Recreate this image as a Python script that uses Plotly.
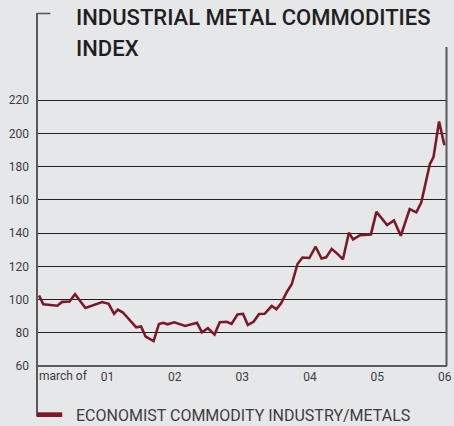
import plotly.graph_objects as go

# Economist commodity index, industrial metals (observation dates and index levels)
dates = [
    "2000-02-25", "2000-03-19", "2000-06-03", "2000-06-29", "2000-08-08", "2000-09-07",
    "2000-11-02", "2001-02-01", "2001-03-08", "2001-04-06", "2001-04-27", "2001-05-24",
    "2001-08-04", "2001-08-30", "2001-09-24", "2001-11-06", "2001-12-05", "2001-12-29",
    "2002-01-20", "2002-02-26", "2002-04-26", "2002-06-29", "2002-07-26", "2002-08-27",
    "2002-10-02", "2002-10-30", "2002-12-07", "2003-01-02", "2003-02-03", "2003-03-05",
    "2003-03-31", "2003-05-01", "2003-05-31", "2003-06-30", "2003-08-07", "2003-09-02",
    "2003-09-27", "2003-10-29", "2003-11-24", "2003-12-25", "2004-01-21", "2004-02-27",
    "2004-04-01", "2004-05-03", "2004-05-28", "2004-06-27", "2004-07-31", "2004-08-27",
    "2004-09-28", "2004-10-21", "2004-11-27", "2005-01-25", "2005-02-24", "2005-04-23",
    "2005-05-30", "2005-07-06", "2005-08-23", "2005-09-28", "2005-10-25", "2005-12-10",
    "2005-12-30", "2006-01-29", "2006-02-27",
]
index_values = [
    102.4, 97.2, 96.3, 98.6, 98.8, 103.2,
    94.9, 98.5, 97.4, 91.4, 93.9, 92.2,
    83.3, 83.8, 77.7, 75.0, 85.3, 86.0,
    85.1, 86.3, 84.1, 86.0, 80.3, 82.7,
    78.9, 86.3, 86.6, 85.3, 91.0, 91.4,
    84.7, 86.6, 91.3, 91.4, 96.1, 94.2,
    97.7, 104.7, 109.3, 121.4, 125.3, 125.0,
    131.8, 124.7, 125.4, 130.5, 127.2, 124.2,
    140.2, 136.2, 138.7, 139.2, 152.8, 144.8,
    147.6, 138.4, 154.4, 152.5, 158.5, 181.5,
    185.7, 207.2, 192.9,
]

series_name = "ECONOMIST COMMODITY INDUSTRY/METALS"
title_lines = ["INDUSTRIAL METAL COMMODITIES", "INDEX"]

y_ticks = [60, 80, 100, 120, 140, 160, 180, 200, 220]
x_tick_dates = ["2001-03-01", "2002-03-01", "2003-03-01", "2004-03-01", "2005-03-01", "2006-03-01"]
x_tick_labels = ["01", "02", "03", "04", "05", "06"]

BG = "#e6e7e9"
MAROON = "#7a1a28"
INK = "#231f20"
AXIS = "#58595b"
LABEL = "#3d3d3f"
FONT = "Roboto"

W, H = 454, 426
ML, MR, MT, MB = 37, 2, 47, 60
PW, PH = W - ML - MR, H - MT - MB


def px_x(px):
    return (px - ML) / PW


def px_y(py):
    return (H - MB - py) / PH


fig = go.Figure()
fig.add_trace(go.Scatter(
    x=dates, y=index_values, mode="lines", name=series_name,
    line=dict(color=MAROON, width=2.6), showlegend=False,
))

shapes = [
    # left frame line running from the title bracket down to the key
    dict(type="line", xref="paper", yref="paper", x0=0, x1=0,
         y0=px_y(13), y1=px_y(416.5), line=dict(color=AXIS, width=2)),
    # small bracket at the top
    dict(type="line", xref="paper", yref="paper", x0=0, x1=px_x(50.5),
         y0=px_y(13.5), y1=px_y(13.5), line=dict(color=AXIS, width=1.6)),
    # right border
    dict(type="line", xref="paper", yref="paper", x0=px_x(451.5), x1=px_x(451.5),
         y0=0, y1=1, line=dict(color=AXIS, width=2)),
    # bottom axis
    dict(type="line", xref="paper", yref="paper", x0=0, x1=1,
         y0=0, y1=0, line=dict(color=AXIS, width=2)),
    # key swatch
    dict(type="rect", xref="paper", yref="paper", x0=0, x1=px_x(62.5),
         y0=px_y(417), y1=px_y(412.3), fillcolor=MAROON, line=dict(width=0)),
]

title_font = dict(family=FONT, size=22, color=INK, weight=500)
annotations = [
    dict(text=title_lines[0], xref="paper", yref="paper", x=px_x(74.5), y=px_y(17.5),
         xanchor="left", yanchor="middle", showarrow=False, font=title_font),
    dict(text=title_lines[1], xref="paper", yref="paper", x=px_x(74.5), y=px_y(48.5),
         xanchor="left", yanchor="middle", showarrow=False, font=title_font),
    dict(text="march of", xref="paper", yref="paper", x=px_x(37), y=px_y(376),
         xanchor="left", yanchor="middle", showarrow=False,
         font=dict(family=FONT, size=12, color=LABEL)),
    dict(text=series_name, xref="paper", yref="paper", x=px_x(74.5), y=px_y(415),
         xanchor="left", yanchor="middle", showarrow=False,
         font=dict(family=FONT, size=16, color=LABEL)),
]

fig.update_layout(
    width=W, height=H,
    margin=dict(l=ML, r=MR, t=MT, b=MB, pad=0),
    paper_bgcolor=BG, plot_bgcolor=BG,
    shapes=shapes, annotations=annotations,
    xaxis=dict(
        type="date", range=["2000-02-14", "2006-03-13"],
        tickmode="array", tickvals=x_tick_dates, ticktext=x_tick_labels,
        showgrid=False, zeroline=False, showline=False, ticks="",
        tickfont=dict(family=FONT, size=12, color=LABEL), ticklabelstandoff=2,
        ticklabeloverflow="allow",
    ),
    yaxis=dict(
        range=[60, 252], tickmode="array", tickvals=y_ticks,
        ticktext=[str(v) for v in y_ticks],
        showgrid=True, gridcolor=INK, gridwidth=1.4,
        zeroline=False, showline=False, ticks="",
        tickfont=dict(family=FONT, size=12, color=LABEL), ticklabelstandoff=7,
    ),
)

fig.write_html("out.html")
